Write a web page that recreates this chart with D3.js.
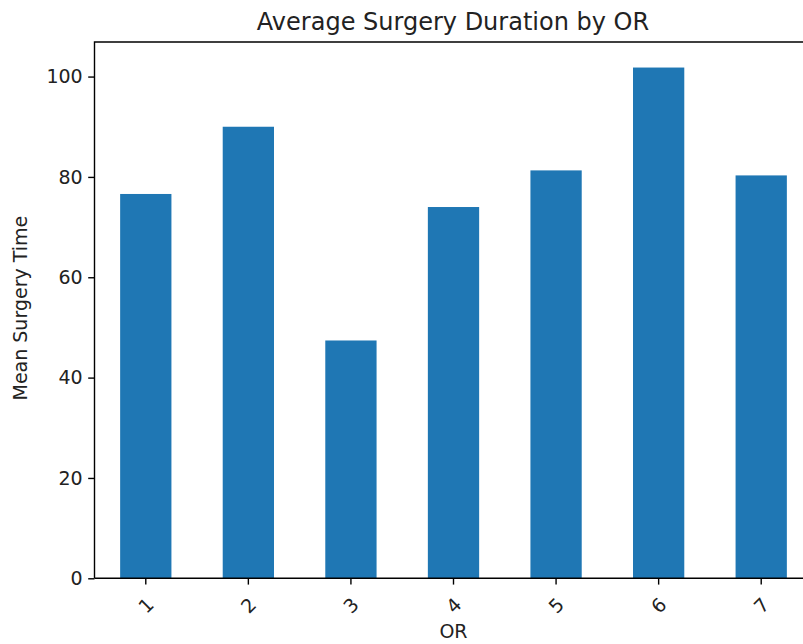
<!DOCTYPE html>
<html>
<head>
<meta charset="utf-8">
<script src="https://cdn.jsdelivr.net/npm/d3@7"></script>
<style>
  body { margin: 0; background: #fff; }
  svg { display: block; font-family: "DejaVu Sans", sans-serif; }
</style>
</head>
<body>
<svg id="chart" width="803" height="644"></svg>
<script>
// OR numbers and their mean surgery time
var rooms = ["1", "2", "3", "4", "5", "6", "7"];
var meanTimes = [76.6, 90.0, 47.4, 74.0, 81.3, 101.8, 80.3];
var yTicks = [0, 20, 40, 60, 80, 100];

const svg = d3.select('#chart');
const plotL = 94.5, plotR = 812.5, plotT = 42, plotB = 578.3;
const textColor = '#222';

const x = d3.scaleBand()
  .domain(rooms)
  .range([plotL, plotR])
  .paddingInner(0.5)
  .paddingOuter(0.25);

const y = d3.scaleLinear()
  .domain([0, d3.max(meanTimes) * 1.05])
  .range([plotB, plotT]);

// bars
svg.append('g')
  .selectAll('rect')
  .data(rooms)
  .enter()
  .append('rect')
  .attr('x', d => x(d))
  .attr('width', x.bandwidth())
  .attr('y', (d, i) => y(meanTimes[i]))
  .attr('height', (d, i) => plotB - y(meanTimes[i]))
  .attr('fill', '#1f77b4');

// y axis
const yAxis = svg.append('g')
  .attr('transform', `translate(${plotL},0)`)
  .call(d3.axisLeft(y).tickValues(yTicks).tickSize(6.3).tickPadding(5.5));
yAxis.select('.domain').remove();
yAxis.selectAll('line').attr('stroke', '#000').attr('stroke-width', 1.4);
yAxis.selectAll('text').attr('font-size', 19).attr('fill', textColor)
  .attr('font-family', '"DejaVu Sans", sans-serif');

// x axis
const xAxis = svg.append('g')
  .attr('transform', `translate(0,${plotB})`)
  .call(d3.axisBottom(x).tickSize(6.3));
xAxis.select('.domain').remove();
xAxis.selectAll('line').attr('stroke', '#000').attr('stroke-width', 1.4);
xAxis.selectAll('text')
  .attr('font-size', 19).attr('fill', textColor)
  .attr('font-family', '"DejaVu Sans", sans-serif')
  .attr('y', 0).attr('dy', null)
  .attr('text-anchor', 'middle')
  .attr('dominant-baseline', 'central')
  .attr('transform', 'translate(0,27) rotate(-45)');

// spines
svg.append('path')
  .attr('d', `M${plotL},${plotB}V${plotT}H${plotR}`)
  .attr('fill', 'none').attr('stroke', '#000').attr('stroke-width', 1.4);
svg.append('line')
  .attr('x1', plotL).attr('x2', plotR).attr('y1', plotB).attr('y2', plotB)
  .attr('stroke', '#000').attr('stroke-width', 1.4);

// labels
svg.append('text')
  .attr('x', (plotL + plotR) / 2 - 0.5).attr('y', 30)
  .attr('text-anchor', 'middle')
  .attr('font-size', 24)
  .attr('fill', textColor)
  .text('Average Surgery Duration by OR');

svg.append('text')
  .attr('x', (plotL + plotR) / 2).attr('y', 638)
  .attr('text-anchor', 'middle')
  .attr('font-size', 19)
  .attr('fill', textColor)
  .text('OR');

svg.append('text')
  .attr('transform', `translate(27,${(plotT + plotB) / 2 - 2}) rotate(-90)`)
  .attr('text-anchor', 'middle')
  .attr('font-size', 19)
  .attr('fill', textColor)
  .text('Mean Surgery Time');
</script>
</body>
</html>
